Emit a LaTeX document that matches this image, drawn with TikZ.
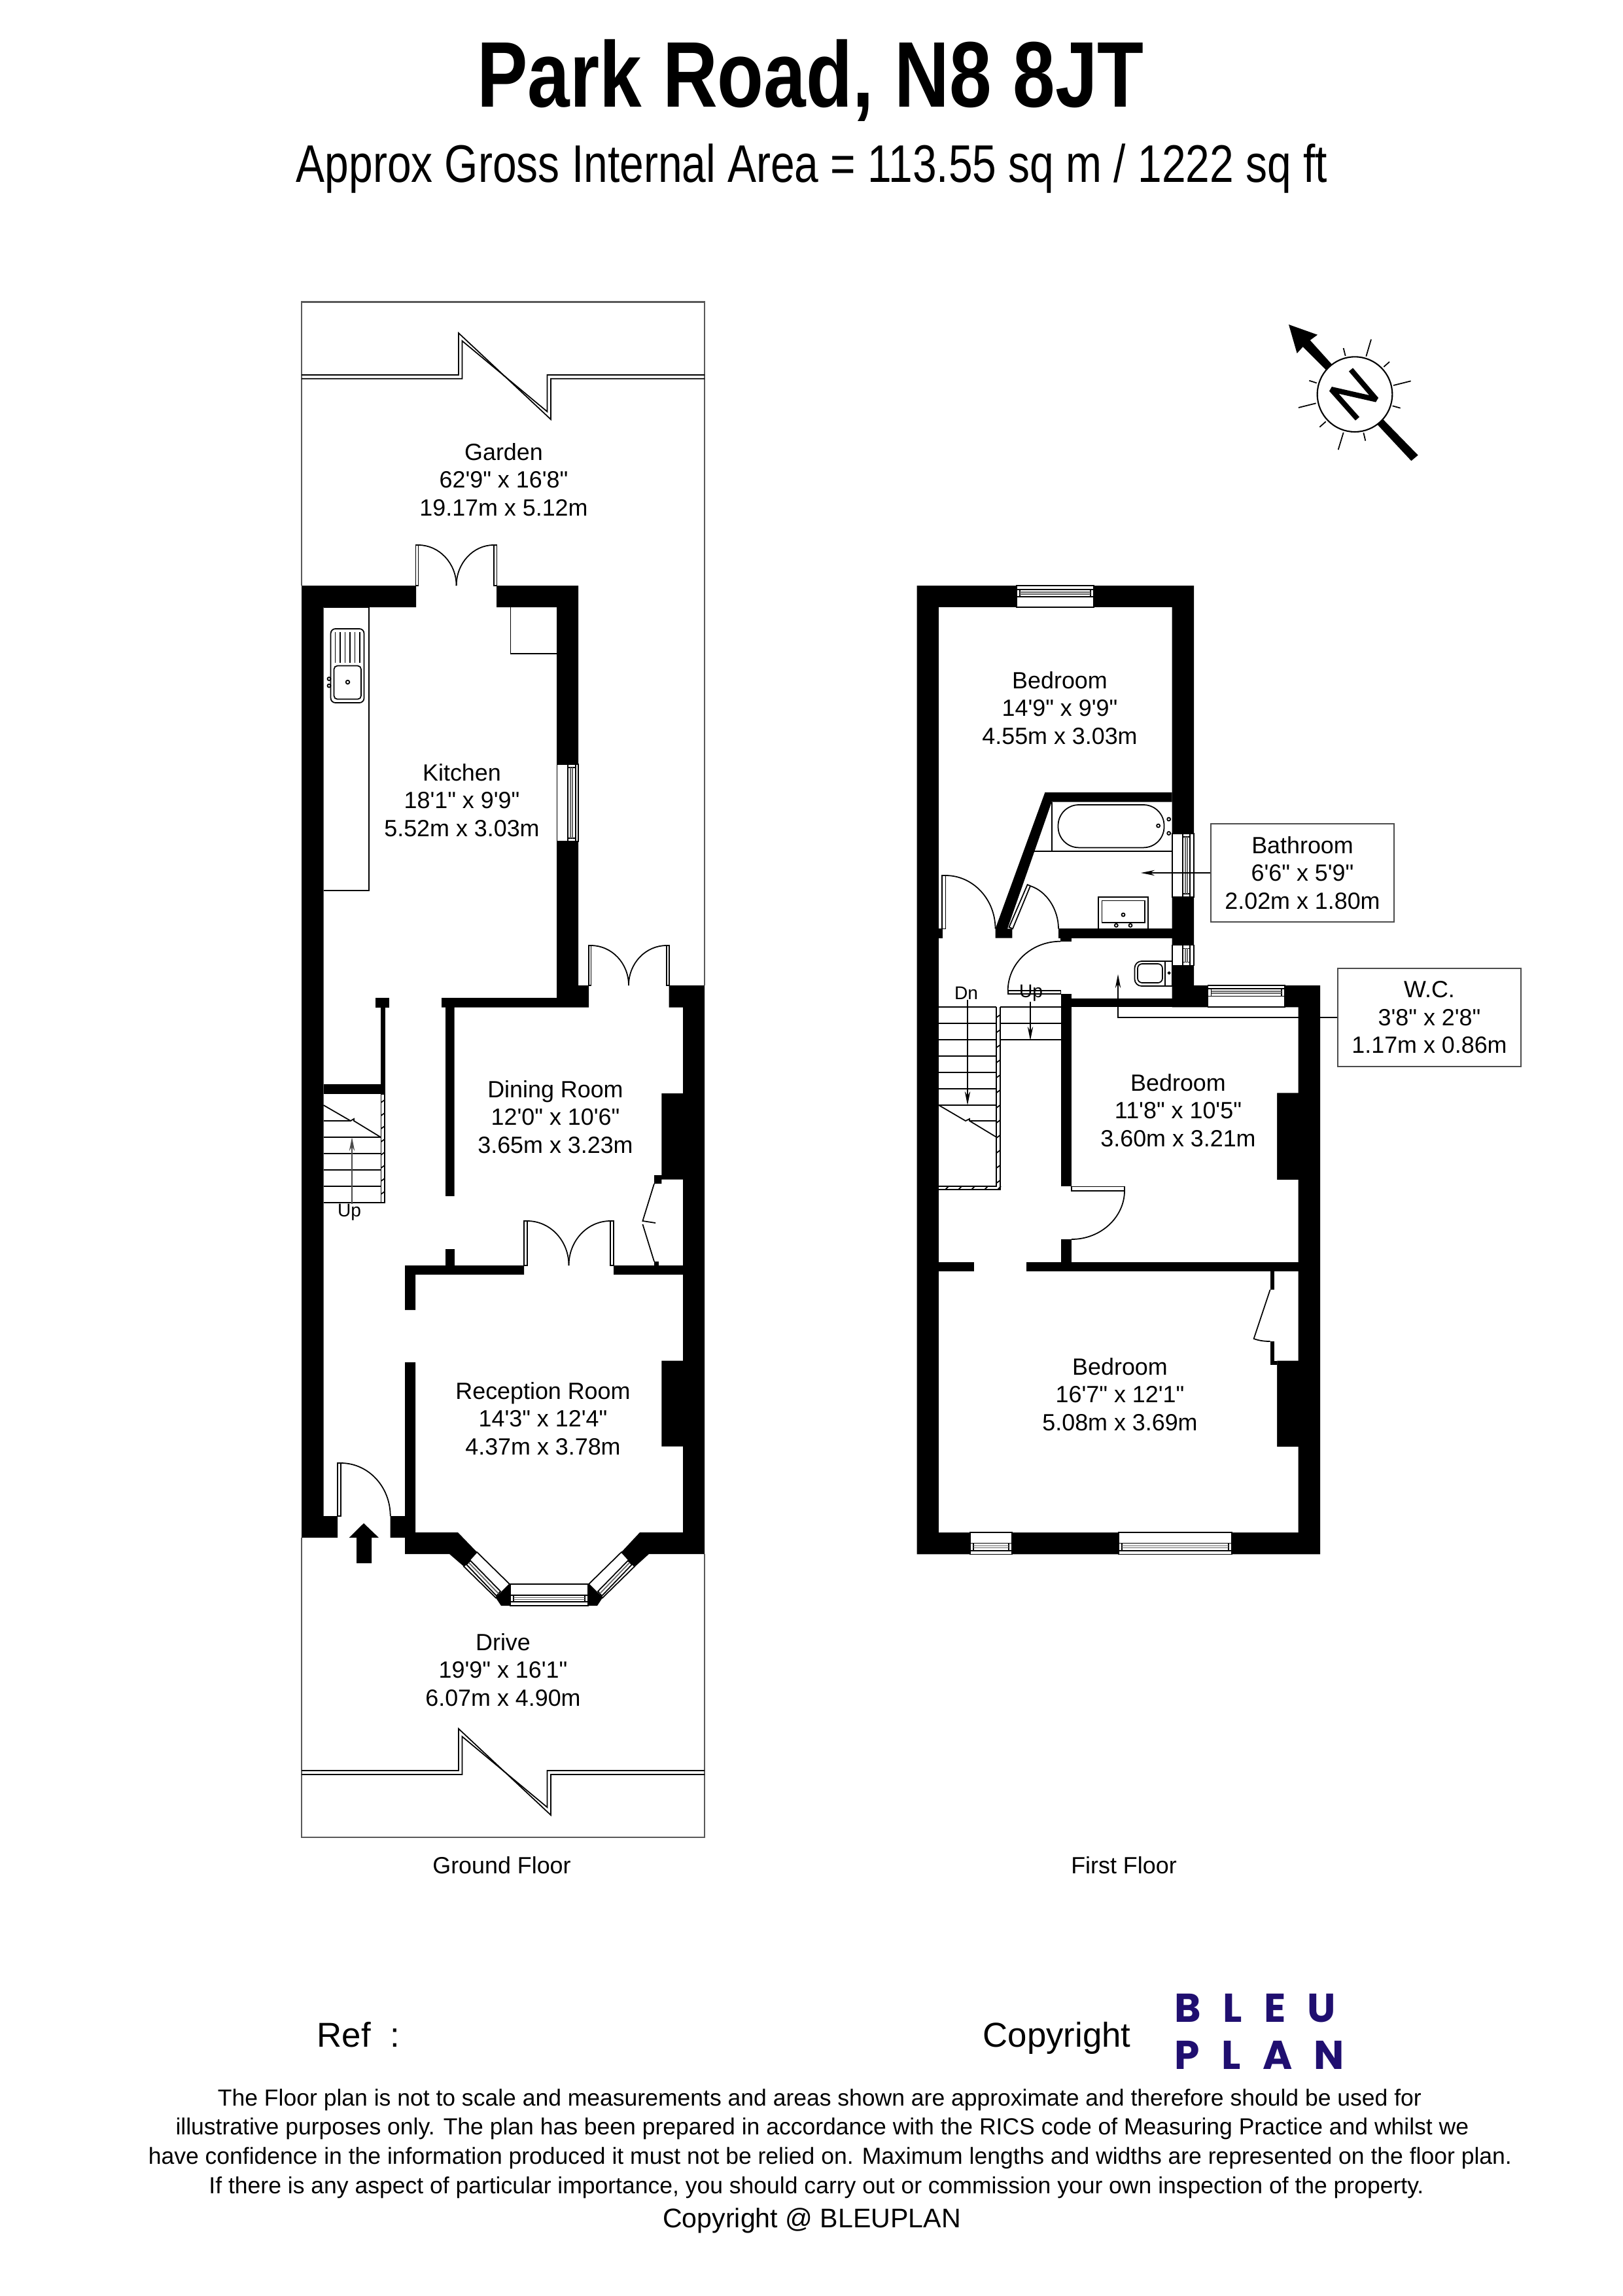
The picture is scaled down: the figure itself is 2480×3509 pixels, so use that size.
\documentclass[tikz,border=0pt]{standalone}
\usepackage{fontspec}
\setmainfont[Ligatures=TeXOff]{Liberation Sans}
\newfontfamily\titlefont[FakeStretch=0.815]{Liberation Sans}
\newfontfamily\logofont[WordSpace=2.55]{Poppins}
\usetikzlibrary{arrows.meta}
\definecolor{logoblue}{RGB}{32,15,112}
\tikzset{
    wall/.style={fill=black},
    fine/.style={line width=0.5pt,black},
    boundary/.style={line width=0.6pt,black!65},
    room/.style={align=center,inner sep=0pt,font=\fontsize{10.2}{12.1}\selectfont},
    labelbox/.style={room,draw=black!70,line width=0.5pt,fill=white,minimum width=2.8cm,minimum height=1.5cm},
    stairtext/.style={inner sep=0pt,font=\fontsize{8}{9}\selectfont},
    small print/.style={inner sep=0pt,font=\fontsize{10.1}{12}\selectfont},
    leader/.style={fine,-{Stealth[length=6pt,width=2.4pt]}},
}
% window across a wall, sash running left to right
\newcommand{\hwindow}[6]{
    \draw[fine,fill=white] (#1,#3) rectangle (#2,#4);
    \draw[fine] (#1,#5) rectangle (#2,#6);
    \draw[fine] (#1+5,#5) -- (#1+5,#6) (#2-5,#5) -- (#2-5,#6);
    \draw[fine,black!60] (#1+5,#5/2+#6/2-1.5) -- (#2-5,#5/2+#6/2-1.5) (#1+5,#5/2+#6/2+1.5) -- (#2-5,#5/2+#6/2+1.5);
}
% same, sash running top to bottom
\newcommand{\vwindow}[6]{
    \draw[fine,fill=white] (#1,#3) rectangle (#2,#4);
    \draw[fine] (#5,#3) rectangle (#6,#4);
    \draw[fine] (#5,#3+5) -- (#6,#3+5) (#5,#4-5) -- (#6,#4-5);
    \draw[fine,black!60] (#5/2+#6/2-1.5,#3+5) -- (#5/2+#6/2-1.5,#4-5) (#5/2+#6/2+1.5,#3+5) -- (#5/2+#6/2+1.5,#4-5);
}
\begin{document}
\begin{tikzpicture}[x=0.01cm,y=-0.01cm]
    \useasboundingbox (0,0) rectangle (2480,3509);

    % headings
    \node[anchor=base,inner sep=0pt] (title) at (1239,164) {\titlefont\bfseries\fontsize{40.5}{44}\selectfont Park Road, N8 8JT};
    \node[anchor=base,inner sep=0pt] (area) at (1241,278) {\titlefont\fontsize{23}{26}\selectfont Approx Gross Internal Area = 113.55 sq m / 1222 sq ft};

    % garden and drive
    \draw[boundary] (461,895) -- (461,461.5) -- (1077,461.5) -- (1077,1506);
    \draw[boundary] (461,2350) -- (461,2808) -- (1077,2808) -- (1077,2375);
    \draw[fine] (461,573) -- (701,573) -- (701,509) -- (842,641) -- (842,578.7) -- (1077,578.7);
    \draw[fine] (461,578.7) -- (706.5,578.7) -- (706.5,521) -- (836.4,629) -- (836.4,573) -- (1077,573);
    \draw[fine] (461,2706) -- (701,2706) -- (701,2642) -- (842,2774) -- (842,2712) -- (1077,2712);
    \draw[fine] (461,2712) -- (706.5,2712) -- (706.5,2654) -- (836.4,2762) -- (836.4,2706) -- (1077,2706);

    % ground floor walls
    \fill[wall] (461,895) -- (636,895) -- (636,928) -- (494.5,928) -- (494.5,2317) -- (516,2317) -- (516,2350) -- (461,2350) -- cycle;
    \fill[wall] (759,895) -- (884,895) -- (884,1506) -- (900,1506) -- (900,1539.5) -- (694.5,1539.5) -- (694.5,1828) -- (681,1828) -- (681,1539.5) -- (675,1539.5) -- (675,1525) -- (851,1525) -- (851,928) -- (759,928) -- cycle;
    \fill[wall] (1022.6,1506) -- (1077,1506) -- (1077,2375) -- (992,2375) -- (971,2394) -- (950,2372) -- (978,2342) -- (1044,2342) -- (1044,2210.7) -- (1011.4,2210.7) -- (1011.4,2079.5) -- (1044,2079.5) -- (1044,1948) -- (938,1948) -- (938,1934) -- (1044,1934) -- (1044,1802.7) -- (1011.4,1802.7) -- (1011.4,1809) -- (1000,1809) -- (1000,1796) -- (1011.4,1796) -- (1011.4,1671) -- (1044,1671) -- (1044,1539.5) -- (1022.6,1539.5) -- cycle;
    \fill[wall] (619,1934) -- (801,1934) -- (801,1948) -- (635,1948) -- (635,2002) -- (619,2002) -- cycle;
    \fill[wall] (681,1909) rectangle (694.5,1934);
    \fill[wall] (1000,1928) rectangle (1007,1934);
    \fill[wall] (619,2082) -- (635,2082) -- (635,2342) -- (700,2342) -- (729,2372) -- (709,2394) -- (687,2375) -- (619,2375) -- (619,2350) -- (596.7,2350) -- (596.7,2317) -- (619,2317) -- cycle;
    \fill[wall] (573.5,1525) rectangle (595,1539.5);
    \fill[wall] (582.4,1539.5) rectangle (588.7,1672);
    \fill[wall] (494.5,1657) rectangle (588.7,1672);

    % bay window
    \fill[wall] (779.3,2421) -- (758,2442) -- (766,2454) -- (780,2454) -- cycle;
    \fill[wall] (899.7,2421) -- (921,2442) -- (913,2454) -- (899,2454) -- cycle;
    \hwindow{780}{899}{2421}{2454}{2438}{2448}
    \draw[fine,fill=white] (729,2372) -- (779,2421) -- (758,2442) -- (709,2394) -- cycle;
    \draw[fine] (713,2391) -- (719,2385) -- (765,2432) -- (759,2439) -- cycle;
    \draw[fine,black!60] (716.5,2388) -- (762,2435.5);
    \draw[fine,fill=white] (950,2372) -- (900,2421) -- (921,2442) -- (970,2394) -- cycle;
    \draw[fine] (966,2391) -- (960,2385) -- (914,2432) -- (920,2439) -- cycle;
    \draw[fine,black!60] (962.5,2388) -- (917,2435.5);

    % kitchen
    \vwindow{851.6}{884}{1168}{1286}{867.7}{880}
    \draw[fine] (494.5,928) -- (564,928) -- (564,1361) -- (494.5,1361);
    \draw[fine] (780.6,928) -- (780.6,999) -- (851,999);
    \draw[fine,rounded corners=2pt] (505.6,961) rectangle (556.5,1074);
    \draw[fine,rounded corners=1.5pt] (510.5,1017.5) rectangle (552,1068.6);
    \foreach \x in {512.5,520,...,551}{
        \draw[fine] (\x,966) -- (\x,1013);
    }
    \draw[fine] (531.5,1042.5) circle (2.8);
    \draw[fine] (503,1037.5) circle (2.5) (503,1048) circle (2.5);

    % ground floor doors
    \draw[fine] (635.5,833) rectangle (639.5,895) (754.7,833) rectangle (759.6,895);
    \draw[fine] (639.5,833) .. controls (671.5,833) and (697.6,861) .. (697.6,895);
    \draw[fine] (754.7,833) .. controls (723,833) and (697.6,861) .. (697.6,895);
    \draw[fine] (900,1445) rectangle (903.4,1506) (1019,1445) rectangle (1023,1506);
    \draw[fine] (903.4,1445) .. controls (935,1445) and (961,1472) .. (961,1506);
    \draw[fine] (1019,1445) .. controls (987,1445) and (961,1472) .. (961,1506);
    \draw[fine] (801,1866) rectangle (806,1934) (933,1866) rectangle (938,1934);
    \draw[fine] (806,1866) .. controls (841,1866) and (869.5,1896) .. (869.5,1934);
    \draw[fine] (933,1866) .. controls (898,1866) and (869.5,1896) .. (869.5,1934);
    \draw[fine] (516,2236) rectangle (521,2317);
    \draw[fine] (521,2236) .. controls (563,2236) and (596.7,2272) .. (596.7,2317);
    \draw[fine] (1000,1809) -- (982.4,1866) -- (1002,1869);
    \draw[fine] (982.4,1871) -- (1000,1928);

    % entrance arrow
    \fill[wall] (556,2328) -- (579,2350) -- (568,2350) -- (568,2389) -- (545,2389) -- (545,2350) -- (533.7,2350) -- cycle;

    % ground floor stairs
    \foreach \y in {1738,1763,1788,1813,1838}{
        \draw[fine] (494.5,\y) -- (582.4,\y);
    }
    \draw[fine] (494.5,1713) -- (536,1713);
    \draw[fine] (494.5,1689) -- (536,1713) -- (541,1710) -- (541,1713) -- (582,1738);
    \draw[fine] (582.4,1672) rectangle (588,1838);
    \foreach \y in {1685,1705,...,1835}{
        \draw[fine] (582.4,\y) -- (588,\y-4);
    }
    \node[stairtext] (gup) at (534,1853) {Up};
    \coordinate (guptip) at (538,1738);
    \draw[leader,black!70] (gup.north -| guptip) -- (guptip);

    % first floor shell, rooms cleared out of it
    \fill[wall] (1401.5,895) -- (1825,895) -- (1825,1506) -- (2018,1506) -- (2018,2375.4) -- (1401.5,2375.4) -- cycle;
    \fill[white] (1435,928) -- (1791.7,928) -- (1791.7,1539.3) -- (1984.5,1539.3) -- (1984.5,1670.4) -- (1952,1670.4) -- (1952,1803) -- (1984.5,1803) -- (1984.5,2079.5) -- (1952,2079.5) -- (1952,2211) -- (1984.5,2211) -- (1984.5,2342) -- (1435,2342) -- cycle;

    % first floor inner walls
    \fill[wall] (1597.4,1211) -- (1791.7,1211) -- (1791.7,1225.5) -- (1607.7,1225.5) -- (1540,1419.4) -- (1547.4,1419.4) -- (1547.4,1433.7) -- (1521.5,1433.7) -- (1521.5,1419.4) -- cycle;
    \fill[wall] (1618,1419.4) rectangle (1791.7,1433.7);
    \fill[wall] (1621,1433.7) rectangle (1638,1439);
    \fill[wall] (1435,1419.4) rectangle (1441,1433.7);
    \fill[wall] (1621.5,1519) rectangle (1638,1539.3);
    \fill[wall] (1638,1525.5) rectangle (1846.5,1539.3);
    \fill[wall] (1621.5,1539.3) rectangle (1638,1813);
    \fill[wall] (1621.5,1894) rectangle (1638,1929);
    \fill[wall] (1435,1929) rectangle (1489,1943);
    \fill[wall] (1569,1929) rectangle (1984.5,1943);
    \fill[wall] (1941.6,1943) rectangle (1948,1971);
    \fill[wall] (1941.6,2050) rectangle (1948,2086);
    \fill[wall] (1941.6,2079.5) rectangle (1952,2086);

    % first floor windows
    \hwindow{1554}{1672}{895}{928}{900.7}{911.7}
    \vwindow{1791.7}{1825}{1274}{1371}{1808}{1819}
    \vwindow{1791.7}{1825}{1444.4}{1475.5}{1808}{1819}
    \hwindow{1846.5}{1964}{1506}{1539}{1511}{1522.5}
    \hwindow{1482.7}{1547}{2342}{2375.4}{2358.5}{2369.6}
    \hwindow{1710}{1883}{2342}{2375.4}{2358.5}{2369.6}

    % first floor doors
    \draw[fine] (1440,1338) rectangle (1445.6,1419.4);
    \draw[fine] (1445.6,1338) .. controls (1487,1338) and (1521.5,1374) .. (1521.5,1419.4);
    \draw[fine] (1542.5,1417) -- (1548,1419.4) -- (1575,1354) -- (1570.6,1352) -- cycle;
    \draw[fine] (1575,1354) .. controls (1600,1362) and (1618,1390) .. (1618,1419.4);
    \draw[fine] (1540.7,1514) rectangle (1621.5,1519);
    \draw[fine] (1621,1438.7) .. controls (1577,1438.7) and (1540.7,1472) .. (1540.7,1514);
    \draw[fine] (1638,1813.4) rectangle (1719,1819.6);
    \draw[fine] (1719,1819.6) .. controls (1719,1860) and (1683,1894) .. (1638,1894);
    \draw[fine] (1941.6,1971) -- (1916.6,2046) .. controls (1925,2049) and (1933,2050) .. (1941.6,2050);

    % bathroom and w.c.
    \draw[fine] (1607.7,1226) -- (1607.7,1301);
    \draw[fine] (1581,1301) -- (1791.7,1301);
    \draw[fine,rounded corners=9pt] (1617.5,1230) rectangle (1779.5,1295.4);
    \draw[fine] (1786.7,1252) circle (2.5) (1786.7,1273.5) circle (2.5) (1770.6,1262) circle (2.5);
    \draw[fine] (1678.7,1419.4) -- (1678.7,1371) -- (1755,1371) -- (1755,1419.4);
    \draw[fine] (1684.5,1376.5) rectangle (1750,1410);
    \draw[fine] (1717,1398) circle (2.5) (1706.3,1414.3) circle (2.5) (1728,1414.3) circle (2.5);
    \draw[fine] (1781,1469) rectangle (1791.7,1507);
    \draw[fine,rounded corners=3pt] (1781,1469) -- (1734.5,1469) -- (1734.5,1507) -- (1781,1507);
    \draw[fine,rounded corners=2pt] (1777,1473) -- (1739,1473) -- (1739,1502) -- (1777,1502) -- cycle;
    \draw[fine] (1787,1487) circle (1.5);

    % first floor stairs
    \foreach \y in {1539,1563.8,1588.8,1613.8,1638.8,1663.8,1688.8}{
        \draw[fine] (1435,\y) -- (1523.3,\y);
    }
    \foreach \y in {1539,1563.8,1588.8}{
        \draw[fine] (1528.7,\y) -- (1621.5,\y);
    }
    \draw[fine] (1482,1713) -- (1523.3,1713);
    \draw[fine] (1435,1689) -- (1476,1713) -- (1482,1710) -- (1482,1713) -- (1523.3,1738);
    \draw[fine] (1523.3,1539) -- (1523.3,1813) -- (1435,1813);
    \draw[fine] (1528.7,1539) -- (1528.7,1818) -- (1435,1818);
    \foreach \y in {1555,1578,...,1810}{
        \draw[fine] (1523.3,\y) -- (1528.7,\y-4);
    }
    \foreach \x in {1445,1465,...,1525}{
        \draw[fine] (\x,1818) -- (\x+5,1813);
    }
    \node[stairtext] (fdn) at (1477,1518) {Dn};
    \node[stairtext] (fup) at (1576,1518) {Up};
    \coordinate (fdntip) at (1479,1689);
    \coordinate (fuptip) at (1575,1590);
    \draw[leader] (fdn.south -| fdntip) -- (fdntip);
    \draw[leader] (fup.south -| fuptip) -- (fuptip);

    % room texts
    \node[room] (garden) at (770,733) {Garden\\62'9" x 16'8"\\19.17m x 5.12m};
    \node[room] (kitchen) at (706,1223) {Kitchen\\18'1" x 9'9"\\5.52m x 3.03m};
    \node[room] (dining) at (849,1707) {Dining Room\\12'0" x 10'6"\\3.65m x 3.23m};
    \node[room] (reception) at (830,2168) {Reception Room\\14'3" x 12'4"\\4.37m x 3.78m};
    \node[room] (drive) at (769,2552) {Drive\\19'9" x 16'1"\\6.07m x 4.90m};
    \node[room] (bedtop) at (1620,1082) {Bedroom\\14'9" x 9'9"\\4.55m x 3.03m};
    \node[room] (bedmid) at (1801,1697) {Bedroom\\11'8" x 10'5"\\3.60m x 3.21m};
    \node[room] (bedfront) at (1712,2131) {Bedroom\\16'7" x 12'1"\\5.08m x 3.69m};

    % outside labels with their leaders
    \node[labelbox] (bathroom) at (1991,1334) {Bathroom\\6'6" x 5'9"\\2.02m x 1.80m};
    \node[labelbox] (wclabel) at (2185,1555) {W.C.\\3'8" x 2'8"\\1.17m x 0.86m};
    \coordinate (bathtip) at (1744,1334);
    \coordinate (wctip) at (1709,1489);
    \draw[leader] (bathroom.west) -- (bathtip);
    \draw[leader] (wclabel.west) -| (wctip);

    \node[room] (groundfloor) at (767,2851) {Ground Floor};
    \node[room] (firstfloor) at (1718,2851) {First Floor};

    % compass
    \begin{scope}[shift={(1900,460)},scale=0.3333]
        \fill[wall] (210,108) -- (342,155) -- (308,180) -- (410,293) -- (380,315) -- (275,210) -- (248,240) -- cycle;
        \fill[wall] (640,540) -- (803,707) -- (772,733) -- (615,565) -- cycle;
        \draw[fine,line width=0.6pt,fill=white] (513,428) circle (172);
        \draw[line width=2.3pt,miter limit=3] (525,540) -- (405,405) -- (612,452) -- (495,315);
        \foreach \a/\b/\c/\d in {588/176/565/254,461/216/470/252,672/279/646/302,770/367/690/387,722/491/686/481,304/365/338/376,255/489/335/469,380/553/352/578,461/603/437/682,553/604/562/641}{
            \draw[fine] (\a,\b) -- (\c,\d);
        }
    \end{scope}

    % footer
    \node[anchor=base west,inner sep=0pt,font=\fontsize{15}{17}\selectfont] (ref) at (484,3128) {Ref~~:};
    \node[anchor=base west,inner sep=0pt,font=\fontsize{15}{17}\selectfont] (copyright) at (1502,3128) {Copyright};
    \node[anchor=base west,inner sep=0pt,text=logoblue,font=\logofont\bfseries\fontsize{17.5}{20}\selectfont] (logotop) at (1795,3090) {B L E U};
    \node[anchor=base west,inner sep=0pt,text=logoblue,font=\logofont\bfseries\fontsize{17.5}{20}\selectfont] (logobottom) at (1795,3162) {P L A N};
    \node[small print] (disclaimera) at (1253,3209) {The Floor plan is not to scale and measurements and areas shown are approximate and therefore should be used for};
    \node[small print] (disclaimerb) at (1257,3253) {illustrative purposes only. The plan has been prepared in accordance with the RICS code of Measuring Practice and whilst we};
    \node[small print] (disclaimerc) at (1269,3298) {have confidence in the information produced it must not be relied on. Maximum lengths and widths are represented on the floor plan.};
    \node[small print] (disclaimerd) at (1248,3343) {If there is any aspect of particular importance, you should carry out or commission your own inspection of the property.};
    \node[inner sep=0pt,font=\fontsize{11.7}{14}\selectfont] (bleucopy) at (1241,3394) {Copyright @ BLEUPLAN};
\end{tikzpicture}
\end{document}
